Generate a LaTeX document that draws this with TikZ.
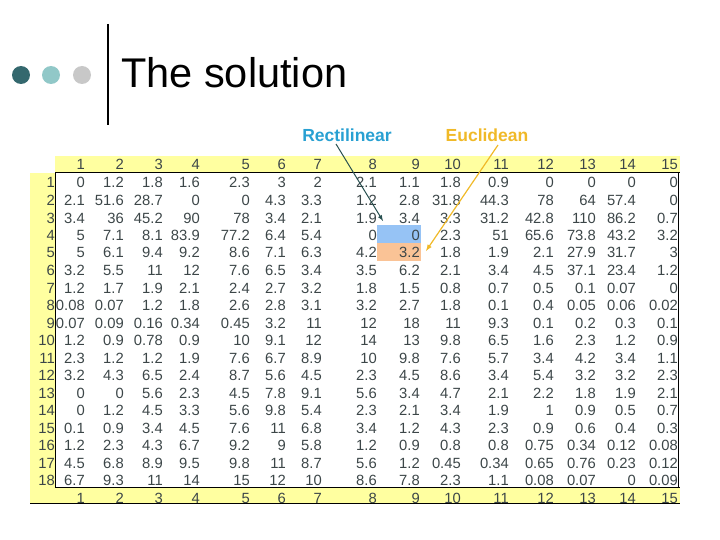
\documentclass[tikz,border=0pt]{standalone}
\usepackage{fontspec}
\setmainfont{Liberation Sans}
\definecolor{num}{RGB}{60,70,72}
\definecolor{yel}{RGB}{255,255,160}
\definecolor{rect}{RGB}{40,160,210}
\definecolor{eucl}{RGB}{240,185,40}
\definecolor{arrT}{RGB}{40,80,80}
\definecolor{dotA}{RGB}{52,104,110}
\definecolor{dotB}{RGB}{145,200,200}
\definecolor{dotC}{RGB}{200,200,200}
\definecolor{hblue}{RGB}{150,195,245}
\definecolor{horange}{RGB}{250,195,150}
\tikzset{cell/.style={anchor=base east,inner sep=0pt,font=\fontsize{14.8}{15}\selectfont,text=num},
lab/.style={font=\fontsize{17.5}{19}\selectfont\bfseries}}
\begin{document}
\begin{tikzpicture}[x=1pt,y=-1pt]
\useasboundingbox (0,0) rectangle (720,540);
\fill[yel] (55,156) rectangle (680,173);
\fill[yel] (30,173) rectangle (55,503);
\fill[yel] (55,487) rectangle (680,503);
\fill[hblue] (377,225) rectangle (421,243);
\fill[horange] (377,243) rectangle (421,261);
\draw[line width=1pt] (55,173) -- (680,173);
\draw[line width=1pt] (55,173) -- (55,487);
\draw[line width=1pt] (678,173) -- (678,487);
\draw[line width=1pt] (55,487) -- (680,487);
\draw[line width=1pt] (30,503) -- (680,503);
% logo and title
\fill[dotA] (21,75) circle (9);
\fill[dotB] (51,75) circle (9);
\fill[dotC] (82,75) circle (9);
\draw[line width=2.5pt] (108,24) -- (108,125);
\node[anchor=base west,inner sep=0pt,font=\fontsize{41.5}{44}\selectfont] (title) at (121,88) {The solution};
% headers
\foreach \c [count=\i] in {85,124,163,200,250,286,322,377,420,461,509,554,596,636,678}{
  \node[cell] (h-\i) at (\c,170) {\i};
  \node[cell] (f-\i) at (\c,503) {\i};
}
\foreach \row [count=\r] in {
{0,1.2,1.8,1.6,2.3,3,2,2.1,1.1,1.8,0.9,0,0,0,0},
{2.1,51.6,28.7,0,0,4.3,3.3,1.2,2.8,31.8,44.3,78,64,57.4,0},
{3.4,36,45.2,90,78,3.4,2.1,1.9,3.4,3.3,31.2,42.8,110,86.2,0.7},
{5,7.1,8.1,83.9,77.2,6.4,5.4,0,0,2.3,51,65.6,73.8,43.2,3.2},
{5,6.1,9.4,9.2,8.6,7.1,6.3,4.2,3.2,1.8,1.9,2.1,27.9,31.7,3},
{3.2,5.5,11,12,7.6,6.5,3.4,3.5,6.2,2.1,3.4,4.5,37.1,23.4,1.2},
{1.2,1.7,1.9,2.1,2.4,2.7,3.2,1.8,1.5,0.8,0.7,0.5,0.1,0.07,0},
{0.08,0.07,1.2,1.8,2.6,2.8,3.1,3.2,2.7,1.8,0.1,0.4,0.05,0.06,0.02},
{0.07,0.09,0.16,0.34,0.45,3.2,11,12,18,11,9.3,0.1,0.2,0.3,0.1},
{1.2,0.9,0.78,0.9,10,9.1,12,14,13,9.8,6.5,1.6,2.3,1.2,0.9},
{2.3,1.2,1.2,1.9,7.6,6.7,8.9,10,9.8,7.6,5.7,3.4,4.2,3.4,1.1},
{3.2,4.3,6.5,2.4,8.7,5.6,4.5,2.3,4.5,8.6,3.4,5.4,3.2,3.2,2.3},
{0,0,5.6,2.3,4.5,7.8,9.1,5.6,3.4,4.7,2.1,2.2,1.8,1.9,2.1},
{0,1.2,4.5,3.3,5.6,9.8,5.4,2.3,2.1,3.4,1.9,1,0.9,0.5,0.7},
{0.1,0.9,3.4,4.5,7.6,11,6.8,3.4,1.2,4.3,2.3,0.9,0.6,0.4,0.3},
{1.2,2.3,4.3,6.7,9.2,9,5.8,1.2,0.9,0.8,0.8,0.75,0.34,0.12,0.08},
{4.5,6.8,8.9,9.5,9.8,11,8.7,5.6,1.2,0.45,0.34,0.65,0.76,0.23,0.12},
{6.7,9.3,11,14,15,12,10,8.6,7.8,2.3,1.1,0.08,0.07,0,0.09}}{
  \pgfmathsetmacro{\yy}{188+(\r-1)*17.5}
  \node[cell] (r-\r) at (55,\yy) {\r};
  \foreach \v [count=\c] in \row {
    \pgfmathsetmacro{\xx}{{85,124,163,200,250,286,322,377,420,461,509,554,596,636,678}[\c-1]}
    \node[cell] (c-\r-\c) at (\xx,\yy) {\v};
  }
}
\node[lab,text=rect] (rl) at (347,135) {Rectilinear};
\node[lab,text=eucl] (el) at (487,135) {Euclidean};
\coordinate (rt) at (383,221);
\coordinate (et) at (426,251);
\draw[arrT,line width=1pt,-latex] (336,144) -- (rt);
\draw[eucl,line width=1.2pt,-latex] (498,145) -- (et);
\end{tikzpicture}
\end{document}
